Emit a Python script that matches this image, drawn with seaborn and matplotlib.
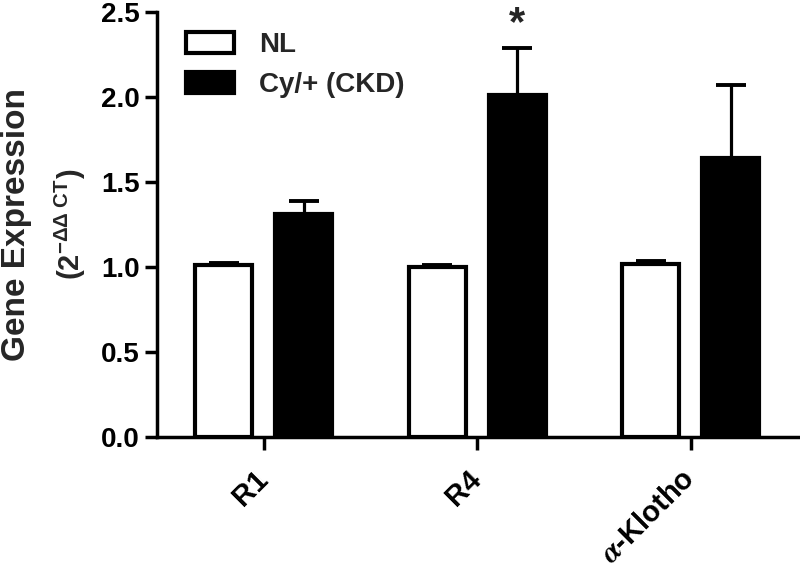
import pandas as pd
import seaborn as sns
import matplotlib.pyplot as plt
from matplotlib.transforms import ScaledTranslation

genes = ['R1', 'R4', r'$\alpha$-Klotho']
groups = ['NL', 'Cy/+ (CKD)']
nl_mean = [1.01, 1.00, 1.02]
nl_sem = [0.015, 0.01, 0.015]
ckd_mean = [1.31, 2.01, 1.64]
ckd_sem = [0.08, 0.28, 0.43]
signif = ['', '*', '']

sns.set_style('ticks')
plt.rcParams['font.family'] = ['Liberation Sans', 'DejaVu Sans']
plt.rcParams['font.weight'] = 'bold'
plt.rcParams['mathtext.fontset'] = 'stix'

df = pd.DataFrame({
    'gene': genes * 2,
    'group': [groups[0]] * 3 + [groups[1]] * 3,
    'value': nl_mean + ckd_mean,
})

fig = plt.figure(figsize=(8, 5.73), dpi=100)
ax = fig.add_axes([0.196, 0.2373, 0.801, 0.7417])

sns.barplot(data=df, x='gene', y='value', hue='group', hue_order=groups,
            palette=['white', 'black'], width=0.75, gap=0.29,
            edgecolor='black', linewidth=3, errorbar=None, legend=False, ax=ax)

# one-sided SEM bars
for cont, means, sems in zip(ax.containers, [nl_mean, ckd_mean], [nl_sem, ckd_sem]):
    xs = [p.get_x() + p.get_width() / 2 for p in cont.patches]
    ax.errorbar(xs, means, yerr=[[0] * len(sems), sems], fmt='none',
                ecolor='black', elinewidth=2.3, capsize=10.5, capthick=2.8, zorder=1)

xs = [p.get_x() + p.get_width() / 2 for p in ax.containers[1].patches]
for x, m, s, t in zip(xs, ckd_mean, ckd_sem, signif):
    if t:
        ax.text(x, m + s + 0.14, t, ha='center', va='center', fontsize=30,
                fontweight='bold', clip_on=False)

ax.set_xlim(-0.5, 2.5)
ax.set_ylim(0, 2.5)
ax.set_yticks([0, 0.5, 1.0, 1.5, 2.0, 2.5])
ax.set_yticklabels(['0.0', '0.5', '1.0', '1.5', '2.0', '2.5'])
ax.set_xlabel('')
ax.set_ylabel('')
ax.tick_params(axis='both', width=2.5, length=9, labelsize=20, colors='black')
ax.tick_params(axis='x', labelsize=21, pad=11)
plt.setp(ax.get_xticklabels(), rotation=45, ha='right', rotation_mode='anchor', fontweight='bold')
plt.setp(ax.get_yticklabels(), fontweight='bold')
shift = ScaledTranslation(-0.10, 0.0, fig.dpi_scale_trans)
for lab in ax.get_xticklabels():
    lab.set_transform(lab.get_transform() + shift)
for s in ['left', 'bottom']:
    ax.spines[s].set_linewidth(2.5)
    ax.spines[s].set_color('black')
sns.despine(ax=ax)

fig.text(0.021, 0.609, 'Gene Expression', rotation=90, ha='center', va='center',
         fontsize=24, fontweight='bold')
fig.text(0.088, 0.609, r'(2$^{\mathregular{-\Delta\Delta\ CT}}$)', rotation=90,
         ha='center', va='center', fontsize=21, fontweight='bold')

ax.legend(ax.containers, groups, loc='upper left', bbox_to_anchor=(0.045, 0.953),
          frameon=False, fontsize=20, handlelength=1.75, handleheight=0.8,
          handletextpad=0.9, labelspacing=0.5, borderpad=0, borderaxespad=0)

fig.savefig('out.png', dpi=100)
